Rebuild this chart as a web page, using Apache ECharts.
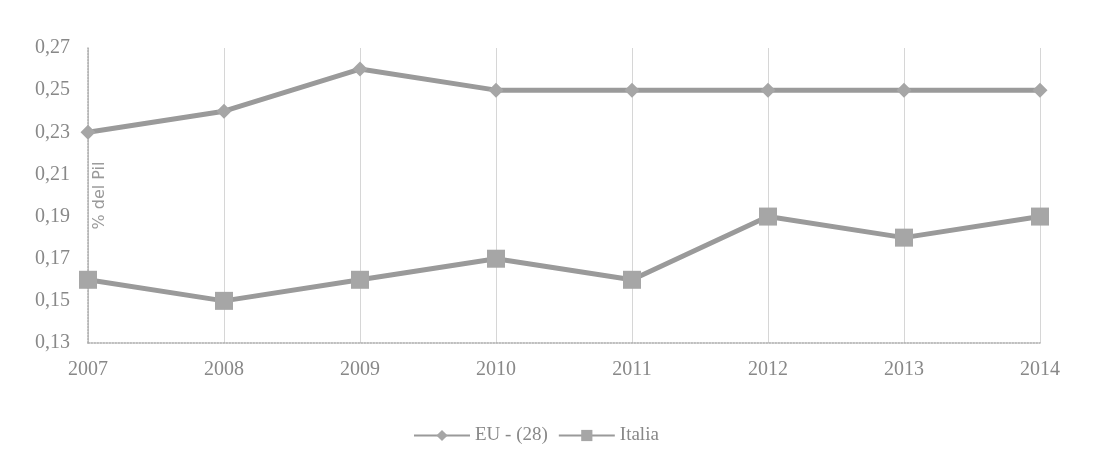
<!DOCTYPE html>
<html><head><meta charset="utf-8">
<script src="https://cdn.jsdelivr.net/npm/echarts@6/dist/echarts.min.js"></script>
<style>html,body{margin:0;padding:0;background:#fff}#c{width:1112px;height:456px}</style>
</head><body><div id="c"></div>
<script>
const years = ['2007','2008','2009','2010','2011','2012','2013','2014'];
const euValues = [0.23,0.24,0.26,0.25,0.25,0.25,0.25,0.25];
const italiaValues = [0.16,0.15,0.16,0.17,0.16,0.19,0.18,0.19];
const seriesNames = ['EU - (28)','Italia'];
const yAxisTitle = '% del Pil';

const chart = echarts.init(document.getElementById('c'));
const lineColor = '#9a9a9a';
chart.setOption({
  animation:false,
  backgroundColor:'#fff',
  grid:{left:88,right:72,top:48,bottom:113,containLabel:false},
  legend:{
    bottom:6,left:408,itemWidth:56,itemHeight:14,itemGap:10,
    textStyle:{fontFamily:'Liberation Serif',fontSize:19,color:'#888'},
    data:seriesNames
  },
  xAxis:{
    type:'category',data:years,boundaryGap:false,
    axisLine:{lineStyle:{color:'#aaa',type:'dotted',width:1.5}},
    axisTick:{show:false},
    axisLabel:{fontFamily:'Liberation Serif',fontSize:20,color:'#888',margin:17},
    splitLine:{show:true,lineStyle:{color:'#d6d6d6',width:1}}
  },
  yAxis:{
    type:'value',min:0.13,max:0.27,interval:0.02,
    name:yAxisTitle,nameLocation:'middle',nameRotate:90,nameGap:-20,nameMoveOverlap:false,
    nameTextStyle:{fontFamily:'DejaVu Sans',fontSize:16,color:'#999'},
    axisLine:{show:true,lineStyle:{color:'#aaa',type:'dotted',width:1.5}},
    axisTick:{show:false},
    axisLabel:{fontFamily:'Liberation Serif',fontSize:20,color:'#888',margin:18,
      formatter:v=>v.toFixed(2).replace('.',',')},
    splitLine:{show:false}
  },
  series:[
    {name:seriesNames[0],type:'line',data:euValues,symbol:'diamond',symbolSize:15,
     lineStyle:{color:lineColor,width:5},itemStyle:{color:'#a6a6a6'}},
    {name:seriesNames[1],type:'line',data:italiaValues,symbol:'rect',symbolSize:18,
     lineStyle:{color:lineColor,width:5},itemStyle:{color:'#a6a6a6'}}
  ]
});
</script></body></html>
